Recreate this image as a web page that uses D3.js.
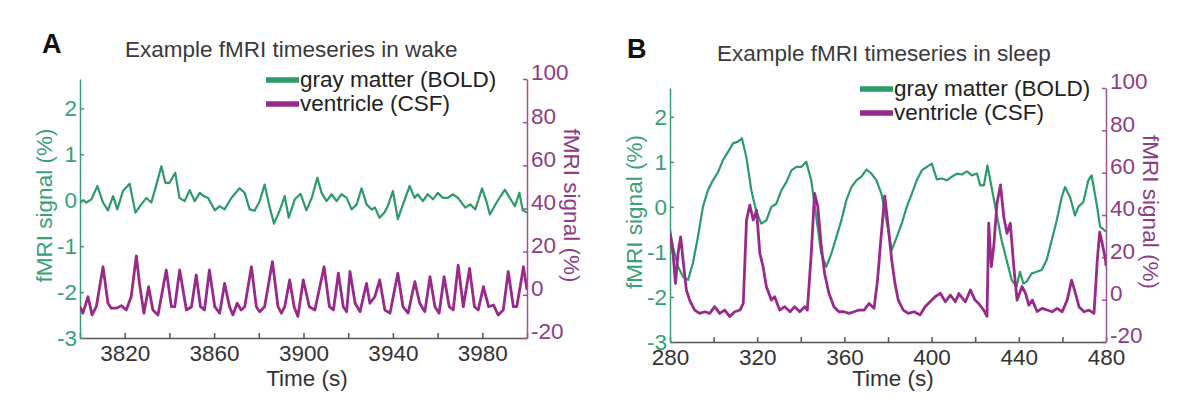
<!DOCTYPE html>
<html>
<head>
<meta charset="utf-8">
<script src="https://cdn.jsdelivr.net/npm/d3@7"></script>
<style>
  body { margin: 0; background: #fff; }
  svg text { font-family: "Liberation Sans", Arial, Helvetica, sans-serif; }
</style>
</head>
<body>
<div id="chart"></div>
<script>
// ---- data ----
// panel A (wake)
var wakeBoldTime = [3800, 3801.5, 3802.8, 3805.1, 3807.8, 3810.3, 3812.5, 3814.8, 3816.7, 3819.2, 3822.2, 3824.8, 3827.4, 3829.7, 3831.9, 3834.2, 3836.4, 3838.2, 3840.1, 3842.6, 3844.5, 3846.8, 3849.1, 3851.3, 3853.6, 3855.0, 3857.3, 3860.3, 3862.5, 3864.7, 3867.7, 3871.4, 3873.7, 3875.9, 3878.1, 3880.4, 3882.6, 3884.9, 3886.8, 3889.3, 3891.6, 3893.4, 3896.1, 3898.7, 3901.3, 3903.7, 3906.2, 3908.1, 3910.3, 3912.6, 3914.8, 3917.0, 3919.3, 3921.5, 3923.8, 3926.0, 3928.2, 3930.5, 3932.0, 3934.0, 3936.2, 3937.7, 3940.0, 3942.2, 3944.5, 3947.5, 3949.7, 3951.1, 3953.4, 3955.6, 3957.9, 3960.1, 3962.4, 3964.6, 3966.8, 3969.1, 3972.4, 3974.6, 3976.9, 3979.9, 3981.8, 3983.4, 3986.4, 3990.1, 3992.3, 3994.6, 3996.6, 3998.1, 4000];
var wakeBold = [-0.05, 0.0, -0.05, 0.02, 0.31, -0.05, -0.22, 0.09, -0.20, 0.20, 0.36, -0.27, -0.09, 0.05, -0.05, 0.34, 0.74, 0.38, 0.38, 0.60, 0.05, -0.02, 0.22, -0.02, 0.16, 0.10, 0.05, -0.22, -0.13, -0.20, 0.05, 0.26, 0.16, -0.20, -0.23, -0.02, 0.34, -0.16, -0.51, -0.23, 0.09, -0.38, 0.02, 0.14, -0.22, 0.05, 0.49, 0.16, -0.02, 0.13, -0.02, 0.13, 0.05, -0.20, -0.09, 0.26, -0.09, -0.20, -0.16, -0.38, -0.27, -0.13, 0.20, -0.41, -0.09, 0.31, 0.05, 0.13, -0.02, 0.13, 0.02, 0.16, 0.05, 0.05, 0.13, 0.05, -0.16, -0.09, -0.20, 0.26, -0.02, -0.31, -0.05, 0.23, 0.05, -0.13, 0.16, -0.22, -0.27];

var wakeCsfTime = [3800, 3801.3, 3803.6, 3805.4, 3807.3, 3810.3, 3812.5, 3814.0, 3816.3, 3818.5, 3820.7, 3822.9, 3825.2, 3826.6, 3828.6, 3830.7, 3832.6, 3834.9, 3838.6, 3840.9, 3842.4, 3844.6, 3847.6, 3849.9, 3852.0, 3853.9, 3855.7, 3857.9, 3860.3, 3862.5, 3864.7, 3866.9, 3868.4, 3870.3, 3872.1, 3873.7, 3876.7, 3878.9, 3880.4, 3882.6, 3886.1, 3888.6, 3890.1, 3891.6, 3893.8, 3895.8, 3897.5, 3899.9, 3902.6, 3905.1, 3909.2, 3911.6, 3913.4, 3915.6, 3917.8, 3919.3, 3920.8, 3923.1, 3925.3, 3928.2, 3929.7, 3931.9, 3934.1, 3936.4, 3938.7, 3942.2, 3944.5, 3946.8, 3949.8, 3952.0, 3954.3, 3956.6, 3958.8, 3960.7, 3962.9, 3965.2, 3967.0, 3969.2, 3971.5, 3974.3, 3976.5, 3978.2, 3980.5, 3982.8, 3985.0, 3987.1, 3989.4, 3991.6, 3993.9, 3995.4, 3997.2, 3998.4, 4000];
var wakeCsf = [-5.5, -8.5, -0.9, -9.3, -5.5, 13.0, -3.9, -6.2, -6.2, -5.0, -7.0, -0.9, 18.0, 5.3, -8.5, 3.8, -7.0, -9.3, 11.5, -5.5, -5.5, 11.5, -7.0, -5.5, 9.2, -5.5, -7.0, 11.5, -5.5, -8.5, 5.3, -5.5, -9.3, -3.9, -7.0, -5.5, 13.0, -5.5, -7.8, -5.5, 15.4, -5.5, -8.5, -5.5, 6.9, -5.5, -10.0, 6.9, -5.5, -7.0, 13.0, -5.5, -7.0, 10.0, -5.5, -7.8, 10.8, -3.9, -7.8, 5.3, -3.9, -0.9, 6.9, -7.0, -8.5, 10.0, -5.5, -8.5, 6.1, -3.9, -7.8, 8.4, -5.5, -8.5, 8.4, -5.5, -7.0, 13.8, -5.5, 12.2, -5.5, -7.0, 3.8, -5.5, -4.7, -9.3, -7.0, 10.8, -5.5, -5.5, 5.3, 13.0, 2.3];

// panel B (sleep)
var sleepBoldTime = [280.0, 281.4, 283.7, 286.0, 288.3, 290.5, 292.8, 295.1, 297.4, 299.7, 302.0, 304.3, 306.6, 308.9, 311.2, 313.0, 315.0, 317.3, 319.6, 321.9, 324.2, 326.5, 328.8, 331.1, 333.4, 335.7, 338.0, 340.3, 342.5, 344.8, 347.1, 349.4, 351.7, 354.0, 356.3, 358.6, 360.9, 363.2, 365.5, 367.8, 370.1, 372.4, 374.7, 377.0, 379.3, 381.7, 384.0, 386.3, 388.6, 390.9, 393.2, 395.5, 397.8, 400.1, 402.4, 404.7, 407.0, 409.3, 411.6, 413.9, 416.2, 418.5, 420.8, 422.3, 424.0, 425.6, 427.5, 429.8, 432.1, 434.4, 436.7, 439.0, 440.5, 442.1, 443.6, 445.9, 448.2, 450.5, 452.8, 455.1, 457.4, 459.7, 461.2, 463.5, 465.8, 467.3, 469.6, 471.9, 473.4, 475.7, 477.3, 480];
var sleepBold = [-0.52, -0.89, -1.33, -1.55, -1.62, -1.25, -0.67, 0.0, 0.37, 0.59, 0.77, 1.04, 1.22, 1.41, 1.45, 1.52, 1.11, 0.37, -0.11, -0.37, -0.30, 0.0, 0.07, 0.37, 0.55, 0.81, 0.89, 0.89, 1.00, 0.59, -0.22, -1.04, -1.33, -1.04, -0.67, -0.30, 0.15, 0.44, 0.59, 0.67, 0.83, 0.74, 0.59, 0.29, -0.30, -0.96, -0.67, -0.37, 0.0, 0.29, 0.59, 0.81, 0.89, 0.96, 0.61, 0.63, 0.59, 0.67, 0.74, 0.72, 0.79, 0.70, 0.74, 0.48, 0.48, 0.92, 0.44, -0.15, -0.74, -1.18, -1.62, -1.77, -1.44, -1.70, -1.66, -1.48, -1.44, -1.40, -1.18, -0.74, -0.30, 0.22, 0.44, 0.22, -0.19, 0.0, 0.11, 0.59, 0.70, 0.07, -0.44, -0.55];

var sleepCsfTime = [280.0, 281.4, 282.5, 283.7, 284.9, 286.0, 287.5, 289.0, 291.3, 293.6, 295.9, 298.2, 300.5, 302.8, 305.1, 307.4, 309.7, 312.1, 313.6, 315.1, 316.6, 318.2, 319.7, 321.2, 322.7, 324.2, 326.5, 328.0, 330.3, 332.6, 335.1, 337.2, 339.5, 341.8, 343.0, 344.8, 346.3, 347.8, 349.4, 350.9, 352.9, 355.2, 357.5, 359.8, 362.1, 364.4, 366.7, 369.0, 371.3, 373.6, 375.2, 376.7, 378.5, 380.1, 381.7, 383.2, 384.7, 387.0, 389.3, 392.0, 394.7, 397.0, 399.3, 401.6, 404.0, 406.3, 408.6, 410.9, 412.5, 415.5, 417.8, 419.9, 421.6, 423.9, 425.4, 426.2, 427.4, 428.5, 430.0, 431.6, 433.1, 434.6, 436.1, 437.7, 439.2, 441.5, 443.1, 444.6, 446.2, 448.4, 450.7, 453.0, 455.3, 457.6, 459.9, 462.2, 464.2, 466.0, 467.6, 469.9, 472.2, 474.5, 476.0, 477.1, 478.3, 479.8, 480];
var sleepCsf = [31.3, 21.9, 7.7, 21.9, 29.7, 18.7, 4.6, -0.2, -4.9, -6.5, -5.7, -6.5, -3.3, -6.5, -4.9, -8.0, -5.7, -4.9, -1.8, 37.6, 44.7, 37.6, 42.3, 21.9, 15.6, 6.2, -0.2, 1.4, -4.9, -3.3, -5.7, -3.3, -5.7, -3.3, -4.9, 21.9, 50.2, 44.0, 25.1, 12.5, 3.0, -3.3, -5.7, -5.7, -6.5, -5.7, -4.9, -4.9, -1.8, -4.1, 9.2, 28.1, 49.0, 34.5, 18.7, 7.7, -0.2, -4.9, -6.5, -5.7, -7.2, -3.3, -1.0, 1.4, 3.0, -1.0, 2.2, -1.0, 2.9, -1.0, 4.6, -0.2, -1.8, -4.9, -7.9, 36.1, 15.6, 25.1, 45.6, 54.2, 39.2, 31.3, 36.1, 15.6, -0.2, 6.2, 3.0, -2.6, -0.2, -5.6, -4.1, -4.9, -5.7, -4.1, -5.7, -0.2, 9.2, 3.0, -3.3, -5.7, -4.9, -6.5, 18.7, 31.9, 26.4, 18.7, 16.0];

var wakeTimeLabels = [3820, 3860, 3900, 3940, 3980];
var sleepTimeLabels = [280, 320, 360, 400, 440, 480];
var leftTicks = [-3, -2, -1, 0, 1, 2];
var rightTicks = [-20, 0, 20, 40, 60, 80, 100];
var seriesNames = ["gray matter (BOLD)", "ventricle (CSF)"];

var green = "#2c9a69";
var purple = "#982a8c";
var fs = 22.5;

function drawPanel(svg, p) {

    var x = d3.scaleLinear().domain(p.tDomain).range([p.left, p.right]);
    var yL = d3.scaleLinear().domain([-3, 2.64]).range([p.bottom, p.top]);
    var yR = d3.scaleLinear().domain([-20, 100]).range([p.bottom, p.top]);

    // panel letter + title
    svg.append("text")
        .attr("x", p.letterX).attr("y", p.letterY)
        .attr("font-size", 27).attr("font-weight", "bold")
        .attr("fill", "#111")
        .text(p.letter);

    svg.append("text")
        .attr("x", p.titleX).attr("y", p.titleY)
        .attr("font-size", fs).attr("fill", "#3a3a3a")
        .text(p.title);

    // bottom axis, ticks every 20 s, labels every 40 s
    var xTicks = d3.range(p.tDomain[0], p.tDomain[1] + 1, 20);
    var xAxis = svg.append("g")
        .attr("transform", `translate(0, ${p.bottom})`)
        .call(d3.axisBottom(x).tickValues(xTicks).tickSizeInner(-5).tickSizeOuter(0).tickPadding(7)
            .tickFormat(d => p.timeLabels.indexOf(d) >= 0 ? String(d) : ""));
    xAxis.select(".domain").attr("stroke", "#555").attr("stroke-width", 1.5);
    xAxis.selectAll(".tick line").attr("stroke", "#555").attr("stroke-width", 1.5);
    xAxis.selectAll("text").attr("font-size", fs).attr("fill", "#333").attr("font-family", null);

    // left axis (BOLD)
    var lAxis = svg.append("g")
        .attr("transform", `translate(${p.left}, 0)`)
        .call(d3.axisLeft(yL).tickValues(leftTicks).tickSizeInner(-4).tickSizeOuter(0).tickPadding(3)
            .tickFormat(d => String(d)));
    lAxis.select(".domain").attr("stroke", "#3c9c72").attr("stroke-width", 1.5);
    lAxis.selectAll(".tick line").attr("stroke", "#3c9c72").attr("stroke-width", 1.5);
    lAxis.selectAll("text").attr("font-size", fs).attr("fill", "#3aa077").attr("font-family", null);

    // right axis (CSF), labels sit a little above their ticks
    var rAxis = svg.append("g")
        .attr("transform", `translate(${p.right}, 0)`)
        .call(d3.axisRight(yR).tickValues(rightTicks).tickSizeInner(-4).tickSizeOuter(0).tickPadding(4)
            .tickFormat(d => String(d)));
    rAxis.select(".domain").attr("stroke", "#9a5592").attr("stroke-width", 1.5);
    rAxis.selectAll(".tick line").attr("stroke", "#9a5592").attr("stroke-width", 1.5);
    rAxis.selectAll("text").attr("font-size", fs).attr("fill", "#8c3d85")
        .attr("dy", "0.04em").attr("font-family", null);

    // axis titles
    svg.append("text")
        .attr("transform", `translate(${p.left - 28}, ${(p.top + p.bottom) / 2 - 3}) rotate(-90)`)
        .attr("text-anchor", "middle")
        .attr("font-size", fs).attr("fill", "#3aa077")
        .text("fMRI signal (%)");

    svg.append("text")
        .attr("transform", `translate(${p.right + 37}, ${(p.top + p.bottom) / 2 - 3}) rotate(90)`)
        .attr("text-anchor", "middle")
        .attr("font-size", fs).attr("fill", "#8c3d85")
        .text("fMRI signal (%)");

    svg.append("text")
        .attr("x", p.timeX).attr("y", 386)
        .attr("text-anchor", "middle")
        .attr("font-size", fs).attr("fill", "#333")
        .text("Time (s)");

    // lines
    var clipId = "clip-" + p.letter;
    svg.append("defs").append("clipPath").attr("id", clipId)
        .append("rect")
        .attr("x", p.left).attr("y", p.top - 20)
        .attr("width", p.right - p.left).attr("height", p.bottom - p.top + 20);

    var plot = svg.append("g").attr("clip-path", `url(#${clipId})`);

    var boldPts = p.boldT.map((t, i) => [t, p.bold[i]]);
    var csfPts = p.csfT.map((t, i) => [t, p.csf[i]]);

    plot.append("path")
        .datum(boldPts)
        .attr("fill", "none")
        .attr("stroke", green)
        .attr("stroke-width", 2.2)
        .attr("stroke-linejoin", "round")
        .attr("d", d3.line().x(d => x(d[0])).y(d => yL(d[1])));

    plot.append("path")
        .datum(csfPts)
        .attr("fill", "none")
        .attr("stroke", purple)
        .attr("stroke-width", 2.8)
        .attr("stroke-linejoin", "round")
        .attr("d", d3.line().x(d => x(d[0])).y(d => yR(d[1])));

    // legend
    var legColors = [green, purple];
    var leg = svg.append("g");
    seriesNames.forEach(function(name, i) {
        var yy = p.top + 8 + i * 24;
        leg.append("line")
            .attr("x1", p.legendX).attr("x2", p.legendX + 33)
            .attr("y1", yy - 7).attr("y2", yy - 7)
            .attr("stroke", legColors[i]).attr("stroke-width", 5.5);
        leg.append("text")
            .attr("x", p.legendX + 34).attr("y", yy)
            .attr("font-size", fs).attr("fill", "#222")
            .text(name);
    });
}

function main() {
    var svg = d3.select("#chart")
        .append("svg")
        .attr("width", 1200)
        .attr("height", 399);

    drawPanel(svg, {
        letter: "A", letterX: 42, letterY: 53,
        title: "Example fMRI timeseries in wake", titleX: 125, titleY: 57,
        left: 80, right: 527, top: 79, bottom: 338,
        tDomain: [3800, 4000], timeLabels: wakeTimeLabels, timeX: 307,
        boldT: wakeBoldTime, bold: wakeBold, csfT: wakeCsfTime, csf: wakeCsf,
        legendX: 266
    });

    drawPanel(svg, {
        letter: "B", letterX: 627, letterY: 58,
        title: "Example fMRI timeseries in sleep", titleX: 717, titleY: 61,
        left: 670, right: 1106, top: 88, bottom: 342,
        tDomain: [280, 480], timeLabels: sleepTimeLabels, timeX: 893,
        boldT: sleepBoldTime, bold: sleepBold, csfT: sleepCsfTime, csf: sleepCsf,
        legendX: 860
    });
}

main();
</script>
</body>
</html>
